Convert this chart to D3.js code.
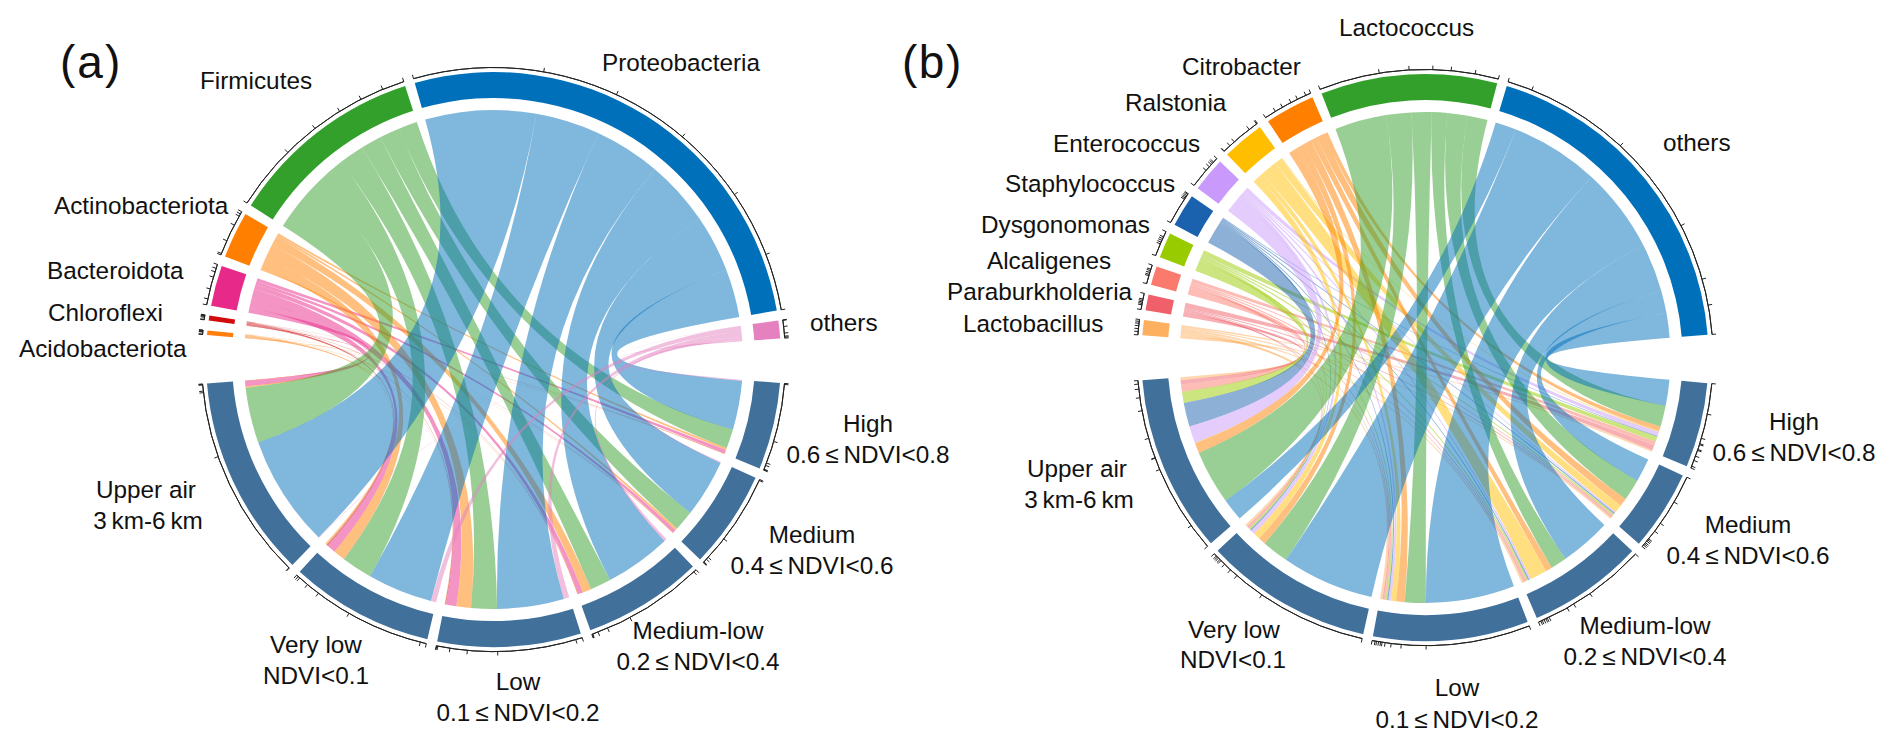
<!DOCTYPE html>
<html>
<head>
<meta charset="utf-8">
<script src="https://cdn.jsdelivr.net/npm/d3@7"></script>
<style>
html,body{margin:0;padding:0;background:#fff;}
svg{display:block;}
text{font-family:"Liberation Sans",Arial,sans-serif;fill:#111;}
</style>
</head>
<body>
<svg id="c" width="1892" height="741"></svg>
<script>
// Environment sectors, in the order each taxon's ribbons leave its sector
const envCategories = ["Upper air","Very low","Low","Medium-low","Medium","High"];
const envColor = "#41709b";

// Panel (a): phyla
const taxaA = ["others","Proteobacteria","Firmicutes","Actinobacteriota","Bacteroidota","Chloroflexi","Acidobacteriota"];
const colorsA = ["#e681bf","#0070bb","#33a02c","#ff7f00","#e7298a","#d00c0c","#ff7f0e"];
const othersA   = [0.1,1.2,1.3,0.6,0.2,0.2];
const proteoA   = [25.8,15.0,15.4,15.3,13.3,11.3];
const firmiA    = [12.8,7.1,5.9,4.8,4.7,4.4];
const actinoA   = [0.3,2.7,3.4,2.0,0.5,0.5];
const bacteroA  = [1.2,2.0,2.4,1.1,0.7,0.8];
const chloroA   = [0.1,0.4,0.2,0.1,0.1,0.1];
const acidoA    = [0.1,0.4,0.1,0.1,0.1,0.1];
const valuesA = [othersA,proteoA,firmiA,actinoA,bacteroA,chloroA,acidoA];

// Panel (b): genera
const taxaB = ["others","Lactococcus","Citrobacter","Ralstonia","Enterococcus","Staphylococcus","Dysgonomonas","Alcaligenes","Paraburkholderia","Lactobacillus"];
const colorsB = ["#0070bb","#33a02c","#ff7f00","#ffbf00","#c999fb","#1a62ae","#99cc00","#fb7a6e","#f0606a","#fdb060"];
const othersB = [5.2,21.7,20.8,11.9,5.5,6.1];
const lactoB  = [12.7,6.2,4.9,3.8,5.0,4.9];
const citroB  = [2.4,1.7,2.0,1.5,1.9,1.1];
const ralstB  = [0.1,1.6,1.2,4.0,1.9,0.2];
const enteroB = [4.0,1.0,0.6,0.4,0.3,1.0];
const staphB  = [5.6,0.3,0.3,0.3,0.3,0.2];
const dysgoB  = [2.6,0.4,0.4,0.4,0.4,1.2];
const alcalB  = [1.7,0.3,0.4,0.4,0.3,0.9];
const paraB   = [1.0,0.3,0.3,0.3,0.3,1.2];
const lactbB  = [0.7,0.6,0.6,0.5,0.4,0.4];
const valuesB = [othersB,lactoB,citroB,ralstB,enteroB,staphB,dysgoB,alcalB,paraB,lactbB];

const labelsA = [
  ["(a)",60,78,"start",46,2],
  ["Firmicutes",200,89,"start"],["Actinobacteriota",54,214,"start"],["Bacteroidota",47,279,"start"],
  ["Chloroflexi",48,321,"start"],["Acidobacteriota",19,357,"start"],["Proteobacteria",602,71,"start"],
  ["others",810,331,"start"],
  ["High",868,432],["0.6\u2009≤\u2009NDVI<0.8",868,463],
  ["Medium",812,543],["0.4\u2009≤\u2009NDVI<0.6",812,574],
  ["Medium-low",698,639],["0.2\u2009≤\u2009NDVI<0.4",698,670],
  ["Low",518,690],["0.1\u2009≤\u2009NDVI<0.2",518,721],
  ["Very low",316,653],["NDVI<0.1",316,684],
  ["Upper air",146,498],["3\u2009km-6\u2009km",148,529]
];
const labelsB = [
  ["(b)",902,78,"start",46,1.5],
  ["Lactococcus",1339,36,"start"],["Citrobacter",1182,75,"start"],["Ralstonia",1125,111,"start"],
  ["Enterococcus",1053,152,"start"],["Staphylococcus",1005,192,"start"],["Dysgonomonas",981,233,"start"],
  ["Alcaligenes",987,269,"start"],["Paraburkholderia",947,300,"start"],["Lactobacillus",963,332,"start"],
  ["others",1663,151,"start"],
  ["High",1794,430],["0.6\u2009≤\u2009NDVI<0.8",1794,461],
  ["Medium",1748,533],["0.4\u2009≤\u2009NDVI<0.6",1748,564],
  ["Medium-low",1645,634],["0.2\u2009≤\u2009NDVI<0.4",1645,665],
  ["Low",1457,696],["0.1\u2009≤\u2009NDVI<0.2",1457,728],
  ["Very low",1234,638],["NDVI<0.1",1233,668],
  ["Upper air",1077,477],["3\u2009km-6\u2009km",1079,508]
];

const rad = d => d * Math.PI / 180;
const svg = d3.select("#c");

function chordPanel(cfg) {
  const { cx, cy, R, taxa, colors, values, taxaSpan, envSpan, labels } = cfg;
  const gap = 2;
  const g = svg.append("g").attr("transform", `translate(${cx},${cy})`);
  const rBandOut = R, rBandIn = R - 26, rChord = R - 38, rAxis = R + 4.5, tick = 4;

  // Sectors run clockwise: taxa from the last category to the first, environments from the last to the first
  const taxaOrder = d3.range(taxa.length).reverse();
  const envOrder = d3.range(envCategories.length).reverse();
  const taxTotals = values.map(d => d3.sum(d));
  const envTotals = envCategories.map((_, j) => d3.sum(values, r => r[j]));
  const total = d3.sum(taxTotals);
  const kT = (taxaSpan[1] - taxaSpan[0] - gap * (taxa.length - 1)) / total;
  const kE = (envSpan[1] - envSpan[0] - gap * (envCategories.length - 1)) / total;

  const taxSector = {}, envSector = {};
  let a = taxaSpan[0];
  taxaOrder.forEach(i => { taxSector[i] = [a, a + taxTotals[i] * kT]; a += taxTotals[i] * kT + gap; });
  a = envSpan[0];
  envOrder.forEach(j => { envSector[j] = [a, a + envTotals[j] * kE]; a += envTotals[j] * kE + gap; });

  // Ribbon slots inside each sector
  const taxSlot = {}, envSlot = {};
  const taxTicks = {}, envTicks = {};
  taxaOrder.forEach(i => {
    let p = taxSector[i][0];
    taxTicks[i] = [p];
    envCategories.forEach((_, j) => {
      const w = values[i][j] * kT;
      taxSlot[i + "-" + j] = [p, p + w];
      p += w;
      taxTicks[i].push(p);
    });
  });
  envOrder.forEach(j => {
    let p = envSector[j][0];
    envTicks[j] = [p];
    taxa.forEach((_, i) => {
      const w = values[i][j] * kE;
      envSlot[i + "-" + j] = [p, p + w];
      p += w;
      envTicks[j].push(p);
    });
  });

  // Ribbons
  const ribbon = d3.ribbon().radius(rChord);
  taxaOrder.forEach(i => {
    envCategories.forEach((_, j) => {
      const s = taxSlot[i + "-" + j], t = envSlot[i + "-" + j];
      g.append("path")
        .attr("d", ribbon({
          source: { startAngle: rad(s[0]), endAngle: rad(s[1]) },
          target: { startAngle: rad(t[0]), endAngle: rad(t[1]) }
        }))
        .attr("fill", colors[i])
        .attr("fill-opacity", 0.5);
    });
  });

  // Sector bands and axes
  const band = d3.arc().innerRadius(rBandIn).outerRadius(rBandOut);
  const axisArc = d3.arc().innerRadius(rAxis).outerRadius(rAxis);
  function sector(ang, color, ticks) {
    g.append("path")
      .attr("d", band({ startAngle: rad(ang[0]), endAngle: rad(ang[1]) }))
      .attr("fill", color);
    g.append("path")
      .attr("d", axisArc({ startAngle: rad(ang[0]), endAngle: rad(ang[1]) }))
      .attr("fill", "none").attr("stroke", "#222").attr("stroke-width", 1);
    ticks.forEach(t => {
      const th = rad(t) - Math.PI / 2;
      g.append("line")
        .attr("x1", rAxis * Math.cos(th)).attr("y1", rAxis * Math.sin(th))
        .attr("x2", (rAxis + tick) * Math.cos(th)).attr("y2", (rAxis + tick) * Math.sin(th))
        .attr("stroke", "#222").attr("stroke-width", 1);
    });
  }
  taxaOrder.forEach(i => sector(taxSector[i], colors[i], taxTicks[i]));
  envOrder.forEach(j => sector(envSector[j], envColor, envTicks[j]));

  // Text
  labels.forEach(l => {
    svg.append("text")
      .attr("x", l[1]).attr("y", l[2])
      .attr("text-anchor", l[3] || "middle")
      .attr("font-size", l[4] || 24.3)
      .attr("letter-spacing", l[5] || 0)
      .text(l[0]);
  });
}

chordPanel({ cx: 493.5, cy: 359.5, R: 287.5, taxa: taxaA, colors: colorsA, values: valuesA,
  taxaSpan: [274.9, 445.8], envSpan: [94.7, 265.2], labels: labelsA });
chordPanel({ cx: 1425, cy: 357.5, R: 283.5, taxa: taxaB, colors: colorsB, values: valuesB,
  taxaSpan: [274.5, 445.4], envSpan: [95.2, 265.4], labels: labelsB });
</script>
</body>
</html>
